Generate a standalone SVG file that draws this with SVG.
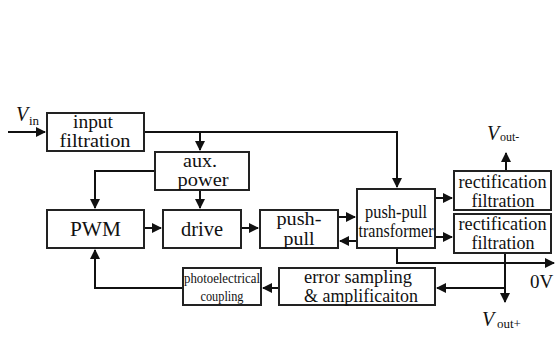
<svg xmlns="http://www.w3.org/2000/svg" width="555" height="338" viewBox="0 0 555 338">
<defs>
<marker id="ah" markerWidth="10" markerHeight="10" refX="9" refY="5" orient="auto" markerUnits="userSpaceOnUse">
<path d="M0,0 L10,5 L0,10 Z" fill="#111"/>
</marker>
<style>
.b{fill:#fff;stroke:#222;stroke-width:2}
.t{font-family:'Liberation Serif','DejaVu Serif',serif;font-size:19px;fill:#111;text-anchor:middle}
.c{fill:none;stroke:#111;stroke-width:2}
</style>
</defs>
<rect width="555" height="338" fill="#fff"/>
<g id="connectors">
<path class="c" d="M8,132 H45" marker-end="url(#ah)"/>
<path class="c" d="M144,132 H397 V187" marker-end="url(#ah)"/>
<path class="c" d="M200,132 V150" marker-end="url(#ah)"/>
<path class="c" d="M155,171 H95 V208" marker-end="url(#ah)"/>
<path class="c" d="M200,190 V208" marker-end="url(#ah)"/>
<path class="c" d="M144,228 H161" marker-end="url(#ah)"/>
<path class="c" d="M241,228 H258" marker-end="url(#ah)"/>
<path class="c" d="M338,217 H355" marker-end="url(#ah)"/>
<path class="c" d="M357,241 H340" marker-end="url(#ah)"/>
<path class="c" d="M435,198 H452" marker-end="url(#ah)"/>
<path class="c" d="M435,237 H452" marker-end="url(#ah)"/>
<path class="c" d="M506,171 V153" marker-end="url(#ah)"/>
<path class="c" d="M505,253 V302" marker-end="url(#ah)"/>
<path class="c" d="M397,248 V263 H554" marker-end="url(#ah)"/>
<path class="c" d="M505,288 H437" marker-end="url(#ah)"/>
<path class="c" d="M279,288 H263" marker-end="url(#ah)"/>
<path class="c" d="M183,288 H95 V250" marker-end="url(#ah)"/>
</g>
<g id="vin"><text x="16" y="121" class="t" style="text-anchor:start;font-style:italic;font-size:20px">V</text><text x="29" y="125" class="t" style="text-anchor:start;font-size:13px">in</text></g>
<g id="input"><rect class="b" x="47" y="113" width="97" height="38"/><text class="t" x="93" y="128" textLength="40" lengthAdjust="spacingAndGlyphs">input</text><text class="t" x="95" y="147" textLength="71" lengthAdjust="spacingAndGlyphs">filtration</text></g>
<g id="aux"><rect class="b" x="155" y="152" width="94" height="38"/><text class="t" x="200" y="167" textLength="34" lengthAdjust="spacingAndGlyphs">aux.</text><text class="t" x="203" y="186" textLength="51" lengthAdjust="spacingAndGlyphs">power</text></g>
<g id="pwm"><rect class="b" x="47" y="210" width="97" height="38"/><text class="t" x="95.5" y="236" style="font-size:20px" textLength="51" lengthAdjust="spacingAndGlyphs">PWM</text></g>
<g id="drive"><rect class="b" x="163" y="210" width="78" height="38"/><text class="t" x="202" y="236" style="font-size:20px" textLength="42" lengthAdjust="spacingAndGlyphs">drive</text></g>
<g id="pushpull"><rect class="b" x="260" y="210" width="78" height="38"/><text class="t" x="299" y="225" textLength="45" lengthAdjust="spacingAndGlyphs">push-</text><text class="t" x="299" y="245" textLength="31" lengthAdjust="spacingAndGlyphs">pull</text></g>
<g id="transformer"><rect class="b" x="357" y="189" width="78" height="59"/><text class="t" x="396" y="218" textLength="62" lengthAdjust="spacingAndGlyphs">push-pull</text><text class="t" x="396" y="237" textLength="75" lengthAdjust="spacingAndGlyphs">transformer</text></g>
<g id="rect1"><rect class="b" x="454" y="171" width="97" height="39"/><text class="t" x="502.5" y="188" textLength="88" lengthAdjust="spacingAndGlyphs">rectification</text><text class="t" x="503" y="207" textLength="63" lengthAdjust="spacingAndGlyphs">filtration</text></g>
<g id="rect2"><rect class="b" x="454" y="214" width="97" height="39"/><text class="t" x="502.5" y="230" textLength="88" lengthAdjust="spacingAndGlyphs">rectification</text><text class="t" x="503" y="249" textLength="63" lengthAdjust="spacingAndGlyphs">filtration</text></g>
<g id="voutminus"><text x="487" y="140" class="t" style="text-anchor:start;font-style:italic;font-size:20px">V</text><text x="500" y="141" class="t" style="text-anchor:start;font-size:12px">out-</text></g>
<g id="zerov"><text x="530" y="288" class="t" style="text-anchor:start;font-size:19px">0V</text></g>
<g id="voutplus"><text x="482" y="326" class="t" style="text-anchor:start;font-style:italic;font-size:20px">V</text><text x="497" y="328" class="t" style="text-anchor:start;font-size:13px">out+</text></g>
<g id="error"><rect class="b" x="279" y="268" width="156" height="37"/><text class="t" x="358" y="283" textLength="108" lengthAdjust="spacingAndGlyphs">error sampling</text><text class="t" x="361" y="302" textLength="114" lengthAdjust="spacingAndGlyphs">&amp; amplificaiton</text></g>
<g id="photo"><rect class="b" x="183" y="268" width="78" height="37"/><text class="t" x="222" y="283" style="font-size:14px" textLength="76" lengthAdjust="spacingAndGlyphs">photoelectrical</text><text class="t" x="222" y="301" style="font-size:14px" textLength="43" lengthAdjust="spacingAndGlyphs">coupling</text></g>
</svg>
